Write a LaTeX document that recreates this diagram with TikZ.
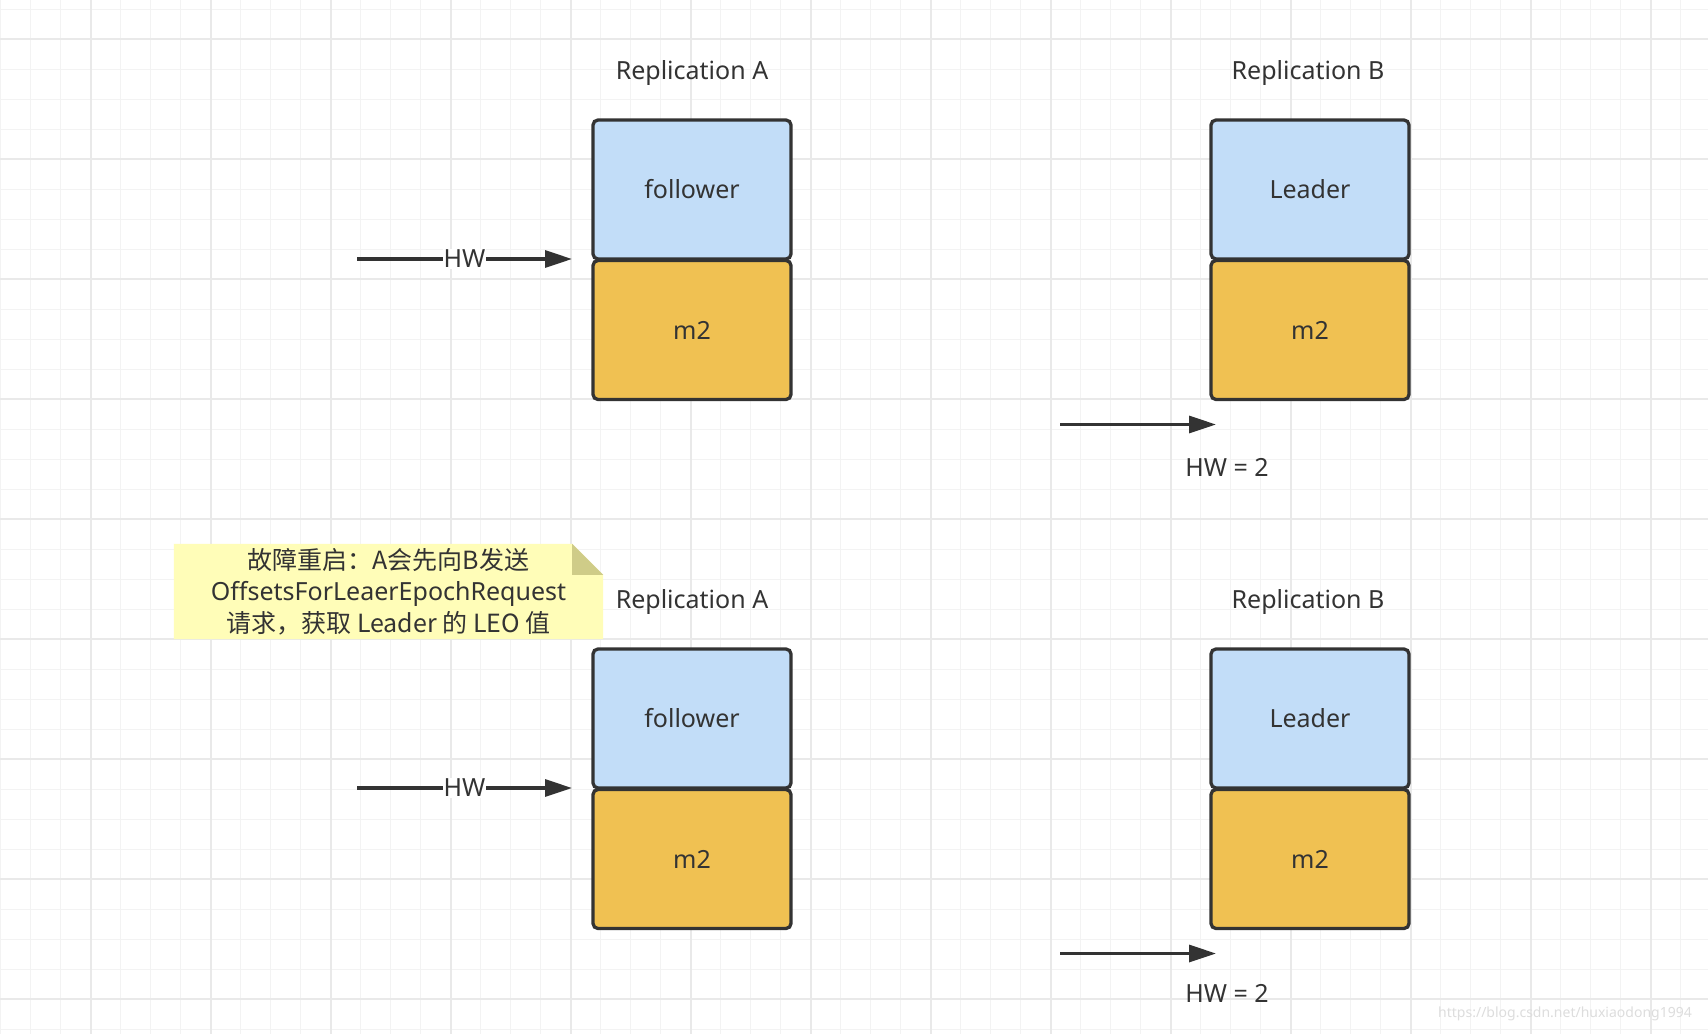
\documentclass[tikz,border=0pt]{standalone}
\usepackage{fontspec}
\setmainfont{Noto Sans}
\newfontfamily\cjk{Noto Sans CJK SC}
\usetikzlibrary{arrows.meta,positioning,backgrounds}
\definecolor{GridMinor}{HTML}{F3F3F3}
\definecolor{GridMajor}{HTML}{E9E9E9}
\definecolor{BoxLine}{HTML}{333333}
\definecolor{BoxBlue}{HTML}{C2DDF8}
\definecolor{BoxOrange}{HTML}{F0C152}
\definecolor{NoteYellow}{HTML}{FFFDB8}
\definecolor{NoteFold}{HTML}{CFCC88}
\definecolor{MarkGray}{HTML}{DDDDDD}
\tikzset{
  cell/.style={rounded corners=5pt, draw=BoxLine, line width=3.3pt, minimum width=198pt,
               minimum height=139pt, outer sep=0pt, inner sep=0pt, text=BoxLine,
               font=\fontsize{25}{30}\selectfont},
  role/.style={cell, fill=BoxBlue},
  msg/.style={cell, fill=BoxOrange},
  title/.style={text=BoxLine, font=\fontsize{25}{30}\selectfont},
  hw/.style={-{Triangle[length=27pt,width=17pt]}, line width=3.3pt, draw=BoxLine},
  hwtag/.style={text=BoxLine, font=\fontsize{25}{30}\selectfont, fill=white, inner sep=1pt},
  note/.style={text=BoxLine, align=center, font=\fontsize{25}{31.5}\selectfont,
               minimum width=429pt, minimum height=95pt, inner sep=0pt},
  watermark/.style={text=MarkGray, font=\fontsize{14}{16}\selectfont},
}
\begin{document}
\begin{tikzpicture}[x=1pt,y=-1pt]
  \useasboundingbox (0,0) rectangle (1708,1034);
  % grid paper
  \begin{scope}[on background layer]
    \fill[white] (0,0) rectangle (1708,1034);
    \foreach \gx in {0,...,56} \draw[GridMinor, line width=1.5pt] (0.7+30*\gx,0) -- (0.7+30*\gx,1034);
    \foreach \gy in {0,...,34} \draw[GridMinor, line width=1.5pt] (0,9.3+30*\gy) -- (1708,9.3+30*\gy);
    \foreach \gx in {0,...,13} \draw[GridMajor, line width=2pt] (90.7+120*\gx,0) -- (90.7+120*\gx,1034);
    \foreach \gy in {0,...,8} \draw[GridMajor, line width=2pt] (0,39.3+120*\gy) -- (1708,39.3+120*\gy);
  \end{scope}

  % before the restart
  \node[role] (folA) at (692,189.5) {follower};
  \node[msg,below=1.5pt of folA] (msgA) {m2};
  \node[role] (leadB) at (1310,189.5) {Leader};
  \node[msg,below=1.5pt of leadB] (msgB) {m2};
  \node[title] (repA) at (692,73) {Replication A};
  \node[title] (repB) at (1308,73) {Replication B};
  \coordinate (hwAtail) at ([xshift=-236pt]folA.south west);
  \draw[hw] (hwAtail) -- node[hwtag] (hwA) {HW} ([xshift=-21pt]folA.south west);
  \coordinate (hwBtail) at ([xshift=-151pt,yshift=-25pt]msgB.south west);
  \draw[hw] (hwBtail) -- ([xshift=5pt,yshift=-25pt]msgB.south west);
  \node[title] (hwB) at (1227,467) {HW = 2};

  % after the restart
  \node[note] (fault) at (388.5,591.5) {{\cjk 故障重启：A会先向B发送}\\OffsetsForLeaerEpochRequest\\{\cjk 请求，获取 Leader 的 LEO 值}};
  \begin{scope}[on background layer]
    \fill[NoteYellow] (fault.south west) -- (fault.north west) -- ([xshift=-31pt]fault.north east)
      -- ([yshift=-31pt]fault.north east) -- (fault.south east) -- cycle;
    \fill[NoteFold] ([xshift=-31pt]fault.north east) -- ([xshift=-31pt,yshift=-31pt]fault.north east)
      -- ([yshift=-31pt]fault.north east) -- cycle;
  \end{scope}
  \node[role] (folA2) at (692,718.5) {follower};
  \node[msg,below=1.5pt of folA2] (msgA2) {m2};
  \node[role] (leadB2) at (1310,718.5) {Leader};
  \node[msg,below=1.5pt of leadB2] (msgB2) {m2};
  \node[title] (repA2) at (692,602) {Replication A};
  \node[title] (repB2) at (1308,602) {Replication B};
  \coordinate (hwA2tail) at ([xshift=-236pt]folA2.south west);
  \draw[hw] (hwA2tail) -- node[hwtag] (hwA2) {HW} ([xshift=-21pt]folA2.south west);
  \coordinate (hwB2tail) at ([xshift=-151pt,yshift=-25pt]msgB2.south west);
  \draw[hw] (hwB2tail) -- ([xshift=5pt,yshift=-25pt]msgB2.south west);
  \node[title] (hwB2) at (1227,993) {HW = 2};

  \node[watermark] (url) at (1565,1014) {https://blog.csdn.net/huxiaodong1994};
\end{tikzpicture}
\end{document}
